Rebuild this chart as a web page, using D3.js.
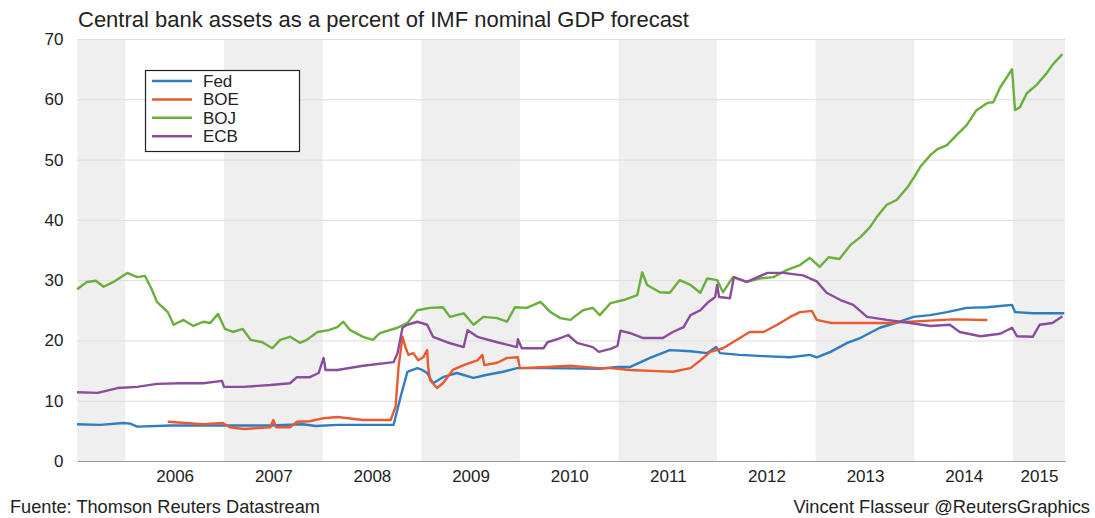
<!DOCTYPE html>
<html><head><meta charset="utf-8">
<script src="https://cdn.jsdelivr.net/npm/d3@7/dist/d3.min.js"></script>
<style>
body{margin:0;background:#fff}
svg{display:block}
text{font-family:Arial,"Liberation Sans",sans-serif;fill:#222}
</style>
</head><body>
<svg id="chart" width="1095" height="518"></svg>
<script>
// ---- data (time as decimal years, values in % of GDP) ----
const titleText = "Central bank assets as a percent of IMF nominal GDP forecast";
const sourceText = "Fuente: Thomson Reuters Datastream";
const creditText = "Vincent Flasseur @ReutersGraphics";
const seriesNames = ["Fed", "BOE", "BOJ", "ECB"];
const seriesColors = ["#2f7dc0", "#ea5a30", "#6aaf3c", "#8b4c9e"];
const yTicks = [0, 10, 20, 30, 40, 50, 60, 70];
const yearLabels = [2006, 2007, 2008, 2009, 2010, 2011, 2012, 2013, 2014, 2015];
const shadedYears = [2005, 2007, 2009, 2011, 2013, 2015];
const timeRange = [2005.515, 2015.527];
const valueRange = [0, 70];

const fed = [
  [2005.51,6.1],[2005.75,6.0],[2005.98,6.3],[2006.05,6.2],[2006.12,5.7],[2006.46,5.9],
  [2007.14,5.9],[2007.47,5.9],[2007.80,6.1],[2007.93,5.8],[2008.15,6.0],[2008.72,6.0],
  [2008.79,10.6],[2008.86,14.8],[2008.96,15.4],[2009.01,15.1],[2009.06,14.6],[2009.12,12.9],
  [2009.22,13.9],[2009.36,14.6],[2009.53,13.8],[2009.67,14.3],[2009.83,14.8],[2009.97,15.4],
  [2010.28,15.4],[2010.80,15.3],[2010.99,15.6],[2011.12,15.6],[2011.32,17.1],[2011.52,18.4],
  [2011.73,18.2],[2011.90,17.9],[2011.99,18.9],[2012.03,17.9],[2012.23,17.6],[2012.47,17.4],
  [2012.74,17.2],[2012.94,17.6],[2013.01,17.2],[2013.15,18.1],[2013.32,19.6],[2013.45,20.4],
  [2013.65,22.1],[2013.85,23.1],[2013.99,23.9],[2014.16,24.2],[2014.33,24.7],[2014.53,25.4],
  [2014.74,25.5],[2014.87,25.7],[2014.99,25.9],[2015.02,24.7],[2015.20,24.5],[2015.52,24.5]
];
const boe = [
  [2006.43,6.5],[2006.79,6.1],[2006.99,6.3],[2007.06,5.6],[2007.20,5.3],[2007.47,5.6],
  [2007.50,6.8],[2007.53,5.6],[2007.67,5.6],[2007.74,6.5],[2007.87,6.6],[2008.01,7.1],
  [2008.15,7.3],[2008.41,6.8],[2008.69,6.8],[2008.74,9.0],[2008.77,15.6],[2008.81,20.6],
  [2008.84,18.9],[2008.87,17.6],[2008.92,17.9],[2008.97,16.7],[2009.02,17.2],[2009.06,18.4],
  [2009.07,15.6],[2009.09,13.4],[2009.16,12.1],[2009.22,12.9],[2009.32,15.1],[2009.43,15.9],
  [2009.57,16.7],[2009.62,17.6],[2009.64,15.9],[2009.77,16.3],[2009.87,17.1],[2009.98,17.2],
  [2010.00,15.4],[2010.28,15.6],[2010.51,15.8],[2010.80,15.4],[2010.92,15.4],[2011.12,15.1],
  [2011.39,14.9],[2011.55,14.8],[2011.73,15.4],[2011.83,16.7],[2011.93,18.1],[2012.06,18.7],
  [2012.23,20.4],[2012.33,21.4],[2012.47,21.4],[2012.61,22.6],[2012.74,23.9],[2012.84,24.7],
  [2012.96,24.9],[2013.01,23.4],[2013.15,22.9],[2013.44,22.9],[2013.72,22.9],[2014.06,23.2],
  [2014.39,23.5],[2014.74,23.4]
];
const boj = [
  [2005.51,28.5],[2005.61,29.7],[2005.70,29.9],[2005.78,28.9],[2005.88,29.7],[2006.02,31.2],
  [2006.12,30.5],[2006.20,30.7],[2006.27,28.4],[2006.32,26.4],[2006.43,24.7],[2006.49,22.6],
  [2006.59,23.4],[2006.69,22.4],[2006.79,23.1],[2006.86,22.9],[2006.94,24.4],[2007.01,21.9],
  [2007.09,21.4],[2007.19,21.9],[2007.27,20.1],[2007.39,19.7],[2007.49,18.7],[2007.57,20.1],
  [2007.67,20.6],[2007.77,19.6],[2007.84,20.1],[2007.95,21.4],[2008.06,21.7],[2008.15,22.2],
  [2008.21,23.1],[2008.28,21.7],[2008.41,20.6],[2008.51,20.1],[2008.58,21.2],[2008.76,22.1],
  [2008.86,22.9],[2008.96,25.0],[2009.09,25.4],[2009.22,25.5],[2009.29,23.9],[2009.43,24.5],
  [2009.53,22.6],[2009.63,23.9],[2009.77,23.7],[2009.87,23.1],[2009.95,25.5],[2010.07,25.4],
  [2010.21,26.4],[2010.31,24.7],[2010.41,23.7],[2010.51,23.4],[2010.64,25.0],[2010.74,25.4],
  [2010.81,24.2],[2010.92,26.2],[2011.05,26.7],[2011.19,27.5],[2011.24,31.3],[2011.29,29.2],
  [2011.42,28.0],[2011.52,27.9],[2011.62,30.0],[2011.73,29.2],[2011.83,27.9],[2011.90,30.3],
  [2012.00,30.0],[2012.06,28.0],[2012.16,30.5],[2012.30,29.7],[2012.44,30.3],[2012.57,30.5],
  [2012.71,31.7],[2012.84,32.5],[2012.94,33.7],[2013.04,32.2],[2013.13,33.8],[2013.24,33.5],
  [2013.35,35.8],[2013.45,37.1],[2013.55,38.8],[2013.62,40.5],[2013.72,42.5],[2013.82,43.3],
  [2013.93,45.4],[2013.99,46.9],[2014.06,48.8],[2014.16,50.7],[2014.23,51.7],[2014.33,52.4],
  [2014.43,54.1],[2014.53,55.7],[2014.63,58.2],[2014.74,59.4],[2014.80,59.5],[2014.87,62.0],
  [2014.94,63.7],[2014.99,65.0],[2015.02,58.2],[2015.07,58.7],[2015.14,61.0],[2015.24,62.4],
  [2015.34,64.3],[2015.40,65.7],[2015.50,67.5]
];
const ecb = [
  [2005.51,11.4],[2005.72,11.3],[2005.92,12.1],[2006.12,12.3],[2006.32,12.8],[2006.56,12.9],
  [2006.79,12.9],[2006.98,13.3],[2007.00,12.3],[2007.20,12.3],[2007.47,12.6],[2007.67,12.9],
  [2007.74,13.9],[2007.87,13.9],[2007.96,14.6],[2008.01,17.1],[2008.03,15.1],[2008.15,15.1],
  [2008.41,15.8],[2008.72,16.4],[2008.76,17.9],[2008.81,22.1],[2008.86,22.6],[2008.96,23.1],
  [2009.06,22.6],[2009.12,20.6],[2009.26,19.7],[2009.43,18.9],[2009.47,21.7],[2009.57,20.6],
  [2009.77,19.7],[2009.97,18.9],[2009.98,20.2],[2010.02,18.7],[2010.24,18.7],[2010.28,19.7],
  [2010.41,20.4],[2010.49,20.9],[2010.58,19.6],[2010.74,18.9],[2010.80,18.1],[2010.92,18.6],
  [2010.99,19.1],[2011.02,21.6],[2011.12,21.2],[2011.25,20.4],[2011.45,20.4],[2011.55,21.4],
  [2011.66,22.2],[2011.73,24.2],[2011.83,25.0],[2011.90,26.2],[2011.98,27.2],[2012.00,29.2],
  [2012.02,27.2],[2012.13,27.0],[2012.17,30.5],[2012.30,29.7],[2012.51,31.2],[2012.67,31.2],
  [2012.87,30.8],[2013.01,29.8],[2013.11,27.9],[2013.25,26.7],[2013.38,25.9],[2013.52,23.9],
  [2013.72,23.4],[2013.96,22.9],[2014.16,22.4],[2014.36,22.6],[2014.46,21.4],[2014.67,20.7],
  [2014.87,21.1],[2014.99,22.1],[2015.04,20.7],[2015.20,20.6],[2015.27,22.6],[2015.40,22.9],
  [2015.50,24.0]
];
const seriesData = [fed, boe, boj, ecb];

// ---- chart ----
const svg = d3.select("#chart");
const x = d3.scaleLinear().domain(timeRange).range([77.5, 1065]);
const y = d3.scaleLinear().domain(valueRange).range([461, 39]);

// shaded alternate years
svg.append("g").selectAll("rect").data(shadedYears).join("rect")
  .attr("x", d => x(Math.max(d, timeRange[0])))
  .attr("width", d => x(Math.min(d + 1, timeRange[1])) - x(Math.max(d, timeRange[0])))
  .attr("y", y(valueRange[1]))
  .attr("height", y(valueRange[0]) - y(valueRange[1]))
  .attr("fill", "#efefef");

// gridlines + y labels
const yAxis = d3.axisLeft(y).tickValues(yTicks).tickSize(-(x.range()[1] - x.range()[0])).tickPadding(14);
const gy = svg.append("g").attr("transform", `translate(${x.range()[0]},0)`).call(yAxis);
gy.select(".domain").remove();
gy.selectAll(".tick line").attr("stroke", "#dcdcdc").attr("stroke-width", 1)
  .filter(d => d === 0).remove();
gy.selectAll(".tick text").attr("font-size", 17).attr("fill", "#333")
  .style("font-family", "Arial, 'Liberation Sans', sans-serif");

// x axis (labels centered in each visible year)
const xAxis = d3.axisBottom(x)
  .tickValues(yearLabels.map(yr => (Math.max(yr, timeRange[0]) + Math.min(yr + 1, timeRange[1])) / 2))
  .tickFormat(d => Math.floor(d))
  .tickSize(0).tickPadding(9);
const gx = svg.append("g").attr("transform", `translate(0,${y(0)})`).call(xAxis);
gx.select(".domain").attr("stroke", "#999");
gx.selectAll(".tick text").attr("font-size", 17).attr("fill", "#333")
  .style("font-family", "Arial, 'Liberation Sans', sans-serif");

// lines
const line = d3.line().x(d => x(d[0])).y(d => y(d[1]));
svg.append("g").selectAll("path").data(seriesData).join("path")
  .attr("d", line)
  .attr("fill", "none")
  .attr("stroke", (d, i) => seriesColors[i])
  .attr("stroke-width", 2.4)
  .attr("stroke-linejoin", "round");

// legend
const lg = svg.append("g");
lg.append("rect").attr("x", 145.5).attr("y", 70.5).attr("width", 154).attr("height", 81)
  .attr("fill", "#fff").attr("stroke", "#222").attr("stroke-width", 1.2);
const rows = lg.selectAll("g.row").data(seriesNames).join("g").attr("class", "row")
  .attr("transform", (d, i) => `translate(0,${81 + i * 18.4})`);
rows.append("line").attr("x1", 152).attr("x2", 192)
  .attr("stroke", (d, i) => seriesColors[i]).attr("stroke-width", 2.5);
rows.append("text").attr("x", 203).attr("dy", "0.35em").attr("font-size", 17).text(d => d);

// titles
svg.append("text").attr("x", 78).attr("y", 27).attr("font-size", 22).attr("fill", "#333").text(titleText);
svg.append("text").attr("x", 10).attr("y", 513).attr("font-size", 18.2).attr("fill", "#222").text(sourceText);
svg.append("text").attr("x", 1090).attr("y", 513).attr("font-size", 18.3).attr("fill", "#222")
  .attr("text-anchor", "end").text(creditText);
</script>
</body></html>
